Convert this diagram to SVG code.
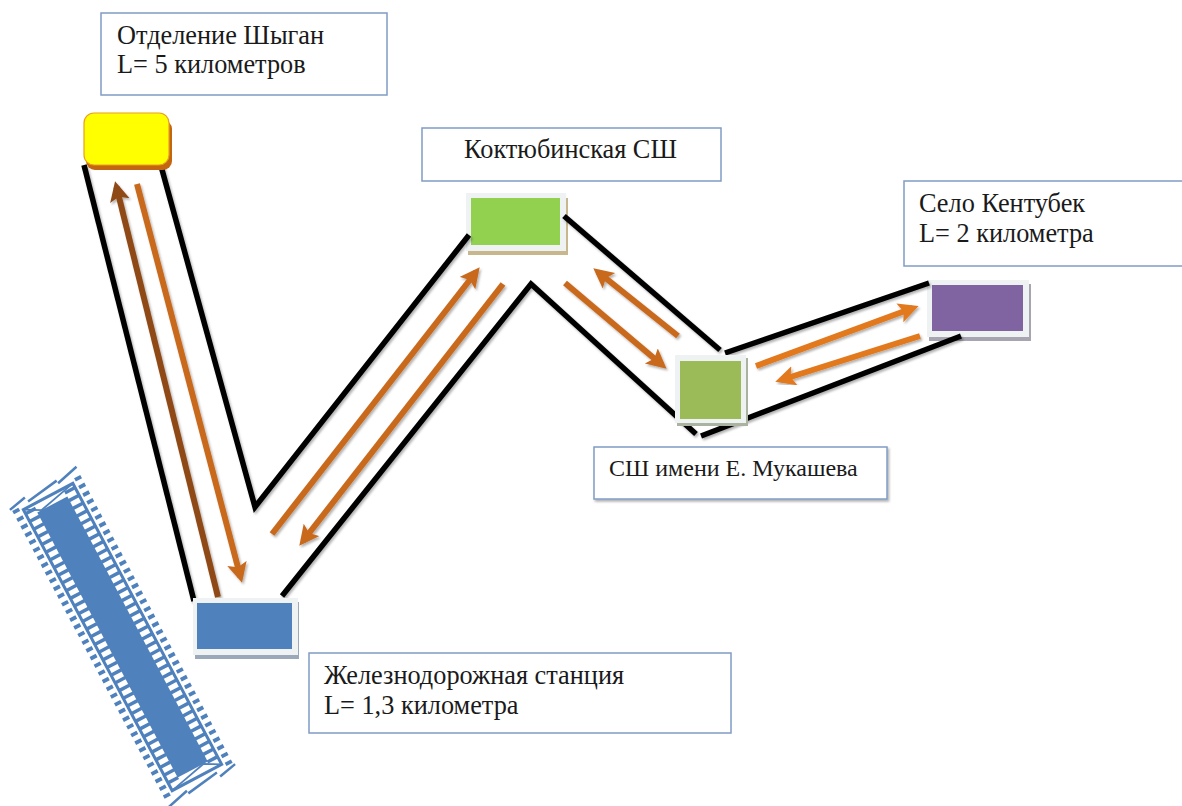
<svg xmlns="http://www.w3.org/2000/svg" width="1182" height="806" viewBox="0 0 1182 806">
<defs>
<marker id="ah" markerUnits="userSpaceOnUse" markerWidth="22" markerHeight="22" refX="14" refY="10" orient="auto"><path d="M0 0L20 10L0 20L4 10Z" fill="context-stroke"/></marker>
<filter id="sh" x="-10%" y="-10%" width="120%" height="120%"><feDropShadow dx="1.500" dy="2" stdDeviation="0.800" flood-color="#000" flood-opacity="0.300"/></filter>
</defs>
<style>
text{font-family:"Liberation Serif","Times New Roman",serif;font-size:26.300px;fill:#1a1a1a}
.box{fill:#fff;stroke:#7f9cc4;stroke-width:1.500}
.blk{fill:none;stroke:#000;stroke-width:5.500;stroke-linejoin:miter;filter:url(#sh)}
.arr{fill:none;stroke:#c9691f;stroke-width:6;marker-end:url(#ah);filter:url(#sh)}
.arr2{stroke:#e2791f}
.frame{fill:#eef2f3}
</style>
<g id="kentubek">
<rect x="929" y="284" width="102" height="57" fill="#a8a5b3"/>
<rect class="frame" x="927" y="280" width="102" height="57"/>
<rect x="932" y="285" width="91" height="46" fill="#8064a2"/>
</g>
<g id="koktobe">
<rect x="468" y="198" width="100" height="57" fill="#c8b78c"/>
<rect class="frame" x="466" y="193" width="100" height="58"/>
<rect x="471" y="198" width="89" height="47" fill="#92d050"/>
</g>
<g id="connectors">
<path class="blk" d="M84 165L194 601"/>
<path class="blk" d="M161 166L255 507L469 235"/>
<path class="blk" d="M282 596L531 284L696 434"/>
<path class="blk" d="M564 216L720 350"/>
<path class="blk" d="M725 353L929 283"/>
<path class="blk" d="M701 436L961 336"/>
<path class="arr" style="stroke:#8f4a17" d="M218 597L116.500 187"/>
<path class="arr" d="M137 184L240.500 577"/>
<path class="arr" d="M272 534L476 272"/>
<path class="arr" d="M503 284L303 541"/>
<path class="arr" d="M565 283L662 365"/>
<path class="arr" d="M678 336L598 272"/>
<path class="arr arr2" d="M756 366L913 308"/>
<path class="arr arr2" d="M920 336L781 380"/>
</g>
<g id="hatch-track" transform="translate(122.500 637) rotate(62.100)" fill="none" stroke="#4f81bd">
<rect x="-150" y="-17" width="300" height="34" fill="#4f81bd" stroke="none"/>
<path d="M-156 -22H156M-156 22H156" stroke-width="11" stroke-dasharray="3.500 5.200"/>
<rect x="-159" y="-28" width="318" height="56" stroke-width="3"/>
<path d="M-163 -35H165M-163 35H165" stroke-width="7" stroke-dasharray="3.800 4.900"/>
<path d="M-165 40L-169 21M-164 20L-169 -15M-166 -15L-172 -39M165 -40L169 -21M164 -20L169 15M166 15L172 39" stroke-width="2.500"/>
<path d="M-159 28L-150 12L-155 -10L-159 -28M159 -28L150 -12L155 10L159 28" stroke-width="1.800"/>
</g>
<g id="station">
<rect x="195" y="602" width="104" height="57" fill="#9aa8ba"/>
<rect class="frame" x="193" y="598" width="105" height="57"/>
<rect x="197" y="603" width="95" height="46" fill="#4f81bd"/>
</g>
<g id="shygan">
<rect x="86" y="120" width="86" height="50" rx="9" fill="#c4650f"/>
<rect x="84" y="113" width="85" height="52" rx="10" fill="#ffff00" stroke="#e8a020" stroke-width="1.200"/>
</g>
<g id="mukashev">
<rect x="677" y="358" width="71" height="68" fill="#a9b3a0"/>
<rect class="frame" x="675" y="355" width="71" height="68"/>
<rect x="680" y="361" width="61" height="58" fill="#9bbb59"/>
</g>
<g id="label-shygan">
<rect class="box" x="101" y="13" width="286" height="82"/>
<text x="117" y="44">Отделение Шыган</text>
<text x="117" y="73">L= 5 километров</text>
</g>
<g id="label-koktobe">
<rect class="box" x="422" y="128" width="299" height="53"/>
<text x="464" y="158">Коктюбинская СШ</text>
</g>
<g id="label-kentubek">
<rect class="box" x="904" y="181" width="290" height="85"/>
<text x="919" y="212">Село Кентубек</text>
<text x="919" y="242">L= 2 километра</text>
</g>
<g id="label-mukashev">
<rect class="box" x="594" y="447" width="293" height="52" filter="url(#sh)"/>
<text x="609" y="476" style="font-size:24px">СШ имени Е. Мукашева</text>
</g>
<g id="label-station">
<rect class="box" x="309" y="653" width="422" height="80"/>
<text x="324" y="684">Железнодорожная станция</text>
<text x="324" y="714">L= 1,3 километра</text>
</g>
</svg>
